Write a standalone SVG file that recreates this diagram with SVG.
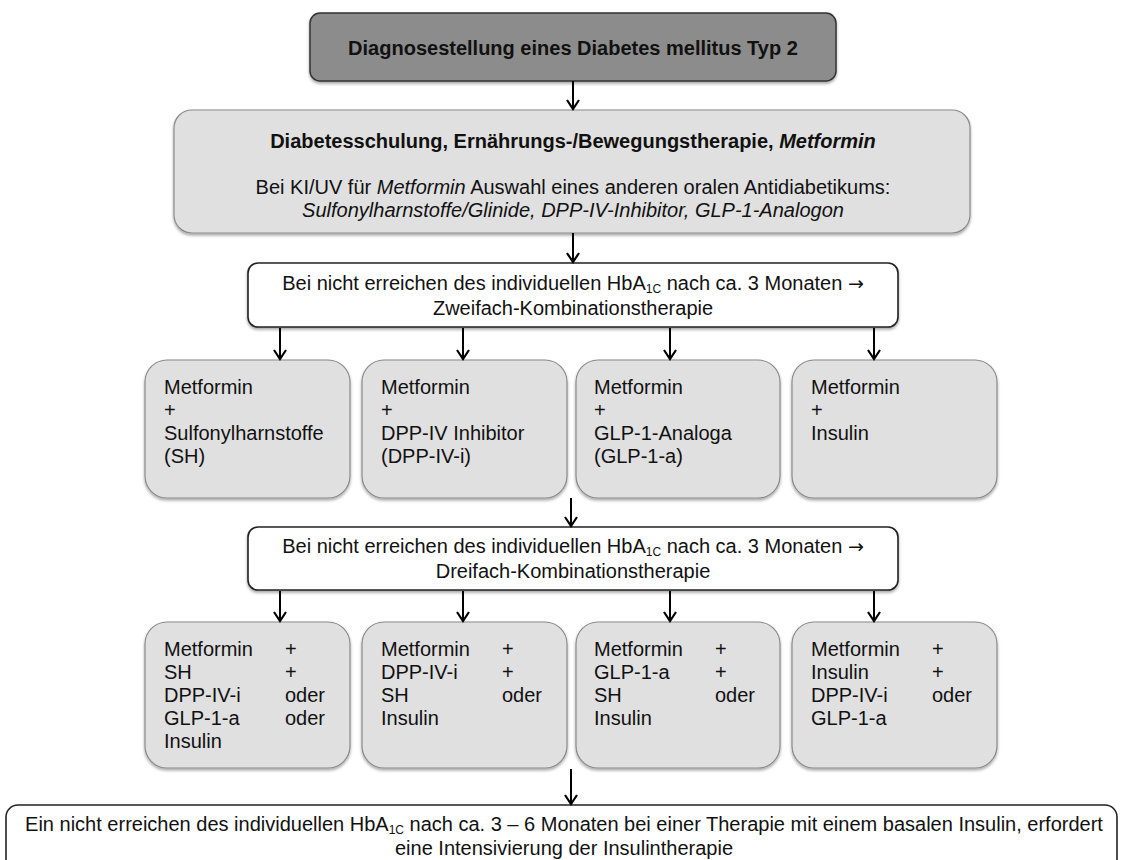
<svg xmlns="http://www.w3.org/2000/svg" width="1123" height="860" viewBox="0 0 1123 860">
<defs>
<filter id="sh" x="-5%" y="-5%" width="110%" height="115%">
<feDropShadow dx="0" dy="2" stdDeviation="1.5" flood-color="#000" flood-opacity="0.35"/>
</filter>
<marker id="ah" viewBox="0 0 14 14" refX="12" refY="7" markerWidth="14" markerHeight="14" markerUnits="userSpaceOnUse" orient="auto">
<path d="M3,1 L12,7 L3,13" fill="none" stroke="#000" stroke-width="2.2"/>
</marker>
</defs>
<style>
text{font-family:"Liberation Sans",Arial,sans-serif;font-size:20px;fill:#111}
.c{text-anchor:middle}
.b{font-weight:bold}
.i{font-style:italic}
.sub{font-size:12px}
.arr{font-family:"DejaVu Sans",sans-serif;font-size:19px}
.top{fill:#8c8c8c;stroke:#333;stroke-width:1.5}
.grey{fill:#e0e0e0;stroke:#8a8a8a;stroke-width:1.2}
.white{fill:#fff;stroke:#222;stroke-width:1.6}
.conn line{stroke:#000;stroke-width:2;marker-end:url(#ah)}
</style>
<rect width="1123" height="860" fill="#fff"/>

<g id="n-diagnose">
<rect class="top" x="310" y="13" width="526" height="68" rx="10" filter="url(#sh)"/>
<text class="c b" x="573" y="55">Diagnosestellung eines Diabetes mellitus Typ 2</text>
</g>

<g id="n-basis">
<rect class="grey" x="174" y="110" width="796" height="123" rx="18" filter="url(#sh)"/>
<text class="c b" x="573" y="148">Diabetesschulung, Ernährungs-/Bewegungstherapie, <tspan class="i">Metformin</tspan></text>
<text class="c" x="573" y="194">Bei KI/UV für <tspan class="i">Metformin</tspan> Auswahl eines anderen oralen Antidiabetikums:</text>
<text class="c i" x="573" y="217">Sulfonylharnstoffe/Glinide, DPP-IV-Inhibitor, GLP-1-Analogon</text>
</g>

<g id="n-zweifach">
<rect class="white" x="248" y="263" width="650" height="64" rx="10" filter="url(#sh)"/>
<text class="c" x="573" y="290">Bei nicht erreichen des individuellen HbA<tspan class="sub" baseline-shift="-3">1C</tspan> nach ca. 3 Monaten <tspan class="arr">→</tspan></text>
<text class="c" x="573" y="315">Zweifach-Kombinationstherapie</text>
</g>

<g id="n-z1">
<rect class="grey" x="145" y="360" width="205" height="138" rx="22" filter="url(#sh)"/>
<text x="164" y="394">Metformin</text>
<text x="164" y="417">+</text>
<text x="164" y="440">Sulfonylharnstoffe</text>
<text x="164" y="463">(SH)</text>
</g>
<g id="n-z2">
<rect class="grey" x="362" y="360" width="205" height="138" rx="22" filter="url(#sh)"/>
<text x="381" y="394">Metformin</text>
<text x="381" y="417">+</text>
<text x="381" y="440">DPP-IV Inhibitor</text>
<text x="381" y="463">(DPP-IV-i)</text>
</g>
<g id="n-z3">
<rect class="grey" x="576" y="360" width="204" height="138" rx="22" filter="url(#sh)"/>
<text x="594" y="394">Metformin</text>
<text x="594" y="417">+</text>
<text x="594" y="440">GLP-1-Analoga</text>
<text x="594" y="463">(GLP-1-a)</text>
</g>
<g id="n-z4">
<rect class="grey" x="792" y="360" width="205" height="138" rx="22" filter="url(#sh)"/>
<text x="811" y="394">Metformin</text>
<text x="811" y="417">+</text>
<text x="811" y="440">Insulin</text>
</g>

<g id="n-dreifach">
<rect class="white" x="248" y="527" width="650" height="63" rx="10" filter="url(#sh)"/>
<text class="c" x="573" y="553">Bei nicht erreichen des individuellen HbA<tspan class="sub" baseline-shift="-3">1C</tspan> nach ca. 3 Monaten <tspan class="arr">→</tspan></text>
<text class="c" x="573" y="578">Dreifach-Kombinationstherapie</text>
</g>

<g id="n-d1">
<rect class="grey" x="145" y="622" width="205" height="146" rx="22" filter="url(#sh)"/>
<text x="164" y="656">Metformin</text><text x="285" y="656">+</text>
<text x="164" y="679">SH</text><text x="285" y="679">+</text>
<text x="164" y="702">DPP-IV-i</text><text x="285" y="702">oder</text>
<text x="164" y="725">GLP-1-a</text><text x="285" y="725">oder</text>
<text x="164" y="748">Insulin</text>
</g>
<g id="n-d2">
<rect class="grey" x="362" y="622" width="205" height="146" rx="22" filter="url(#sh)"/>
<text x="381" y="656">Metformin</text><text x="502" y="656">+</text>
<text x="381" y="679">DPP-IV-i</text><text x="502" y="679">+</text>
<text x="381" y="702">SH</text><text x="502" y="702">oder</text>
<text x="381" y="725">Insulin</text>
</g>
<g id="n-d3">
<rect class="grey" x="576" y="622" width="204" height="146" rx="22" filter="url(#sh)"/>
<text x="594" y="656">Metformin</text><text x="715" y="656">+</text>
<text x="594" y="679">GLP-1-a</text><text x="715" y="679">+</text>
<text x="594" y="702">SH</text><text x="715" y="702">oder</text>
<text x="594" y="725">Insulin</text>
</g>
<g id="n-d4">
<rect class="grey" x="792" y="622" width="205" height="146" rx="22" filter="url(#sh)"/>
<text x="811" y="656">Metformin</text><text x="932" y="656">+</text>
<text x="811" y="679">Insulin</text><text x="932" y="679">+</text>
<text x="811" y="702">DPP-IV-i</text><text x="932" y="702">oder</text>
<text x="811" y="725">GLP-1-a</text>
</g>

<g id="n-intensivierung">
<rect class="white" x="6" y="805" width="1111" height="80" rx="12"/>
<text class="c" x="564" y="831">Ein nicht erreichen des individuellen HbA<tspan class="sub" baseline-shift="-3">1C</tspan> nach ca. 3 – 6 Monaten bei einer Therapie mit einem basalen Insulin, erfordert</text>
<text class="c" x="564" y="855">eine Intensivierung der Insulintherapie</text>
</g>

<g id="connectors" class="conn">
<line x1="573" y1="81" x2="573" y2="109"/>
<line x1="573" y1="233" x2="573" y2="262"/>
<line x1="280" y1="328" x2="280" y2="359"/>
<line x1="463" y1="328" x2="463" y2="359"/>
<line x1="670" y1="328" x2="670" y2="359"/>
<line x1="874" y1="328" x2="874" y2="359"/>
<line x1="571" y1="498" x2="571" y2="526"/>
<line x1="280" y1="591" x2="280" y2="621"/>
<line x1="463" y1="591" x2="463" y2="621"/>
<line x1="670" y1="591" x2="670" y2="621"/>
<line x1="874" y1="591" x2="874" y2="621"/>
<line x1="571" y1="769" x2="571" y2="804"/>
</g>
</svg>
